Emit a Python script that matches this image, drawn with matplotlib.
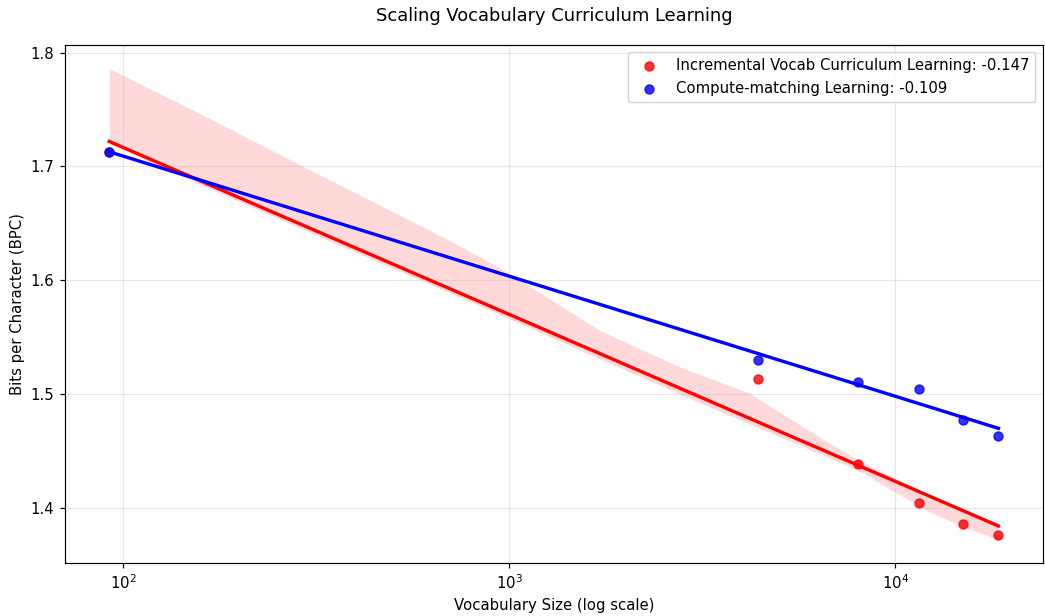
import matplotlib
matplotlib.use("Agg")
import numpy as np
import matplotlib.pyplot as plt
import seaborn as sns

# vocab sizes and bits-per-character
vocab_sizes = [92, 4400, 8000, 11500, 15000, 18500]
bpc_incremental = [1.713, 1.513, 1.438, 1.404, 1.386, 1.376]
bpc_compute = [1.713, 1.530, 1.510, 1.504, 1.477, 1.463]
label_incremental = "Incremental Vocab Curriculum Learning: -0.147"
label_compute = "Compute-matching Learning: -0.109"

# confidence band of the red fit
band_x = [92, 159, 300, 700, 1000, 1712, 2752, 4170, 4900, 6500, 8000, 12000, 15000, 18500]
band_lower = [1.720, 1.684, 1.643, 1.589, 1.566, 1.531, 1.500, 1.474, 1.464, 1.446, 1.433, 1.398, 1.383, 1.372]
band_upper = [1.786, 1.746, 1.698, 1.635, 1.606, 1.556, 1.524, 1.501, 1.486, 1.460, 1.442, 1.413, 1.399, 1.386]

DPI = 107
fig, ax = plt.subplots(figsize=(1045 / DPI, 616 / DPI), dpi=DPI)
fig.subplots_adjust(left=0.062, right=0.998, top=0.927, bottom=0.086)

ax.fill_between(band_x, band_lower, band_upper, color="red", alpha=0.15, linewidth=0)
sns.regplot(x=np.array(vocab_sizes), y=np.array(bpc_incremental), ax=ax, logx=True,
            color="red", ci=None, label=label_incremental)
sns.regplot(x=np.array(vocab_sizes), y=np.array(bpc_compute), ax=ax, logx=True,
            color="blue", ci=None, label=label_compute)

ax.set_xscale("log")
ax.minorticks_off()
ax.set_xlabel("Vocabulary Size (log scale)")
ax.set_ylabel("Bits per Character (BPC)")
ax.set_title("Scaling Vocabulary Curriculum Learning", pad=16)
ax.grid(True, alpha=0.3)
ax.legend(loc="upper right")

fig.savefig("out.png", dpi=DPI)
